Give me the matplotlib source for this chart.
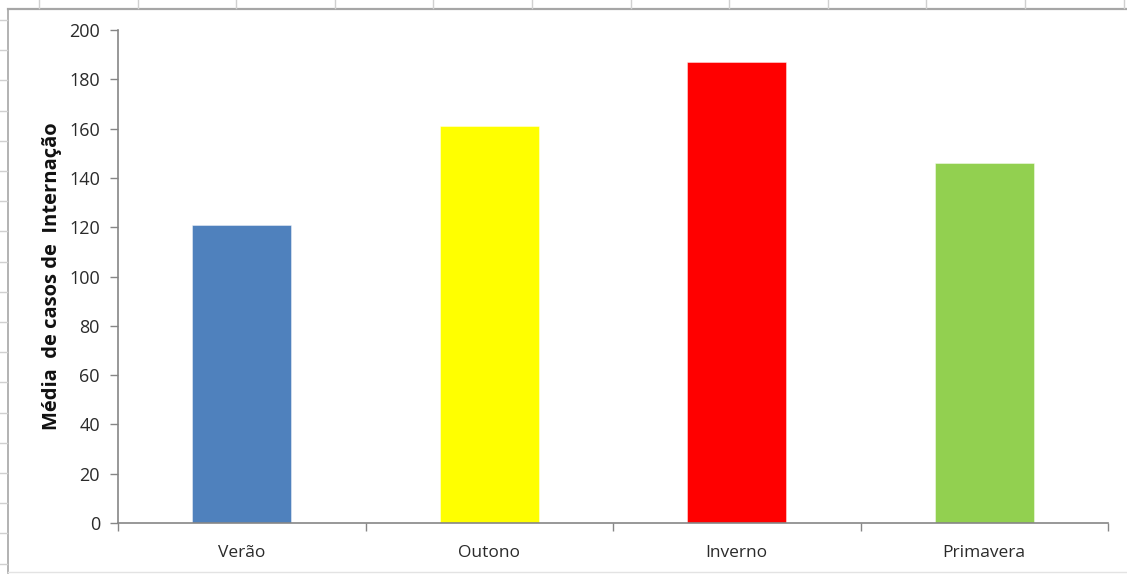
import matplotlib
matplotlib.use("Agg")
import matplotlib.pyplot as plt
from matplotlib.lines import Line2D

# Mean hospitalisation cases per season
seasons = ["Verão", "Outono", "Inverno", "Primavera"]
mean_cases = [121, 161, 187, 146]
bar_colors = ["#4F81BD", "#FFFF00", "#FF0000", "#92D050"]
y_ticks = [0, 20, 40, 60, 80, 100, 120, 140, 160, 180, 200]

W, H = 1127, 574
fig = plt.figure(figsize=(W / 100, H / 100), dpi=100)
fig.patch.set_facecolor("white")

plt.rcParams["font.family"] = ["Open Sans", "DejaVu Sans"]

# Sheet-style frame around the chart
def fx(px):
    return px / W

def fy(py):
    return 1 - py / H

frame_col = "#A6A6A6"
fig.add_artist(Line2D([fx(8), fx(8)], [fy(9), fy(573)], color=frame_col, lw=1.2))
fig.add_artist(Line2D([fx(8), 1], [fy(9), fy(9)], color=frame_col, lw=1.6))
fig.add_artist(Line2D([fx(8), 1], [fy(572), fy(572)], color="#E3E3E3", lw=1.0))
# column header markers along the top edge
for k in range(12):
    x = 39 + 98.6 * k
    fig.add_artist(Line2D([fx(x), fx(x)], [fy(0), fy(8)], color="#D0D0D0", lw=1.0))
# row markers along the left edge
for k in range(19):
    y = 20 + 30.2 * k
    fig.add_artist(Line2D([fx(0), fx(7)], [fy(y), fy(y)], color="#D0D0D0", lw=1.0))

ax = fig.add_axes([fx(118), fy(523), fx(1108) - fx(118), fy(30) - fy(523)])
ax.bar(range(len(seasons)), mean_cases, width=0.4, color=bar_colors,
       edgecolor=[(1, 1, 1, 0.5)] * 4, linewidth=0.6, zorder=2)

ax.set_xlim(-0.5, len(seasons) - 0.5)
ax.set_ylim(0, 200)
ax.set_yticks(y_ticks)
ax.set_yticklabels([str(v) for v in y_ticks], fontsize=13, color="#2a2a2a")

ax.set_xticks(range(len(seasons)))
ax.set_xticklabels(seasons, fontsize=12.5, color="#2a2a2a")
ax.tick_params(axis="x", length=0, pad=16)
ax.set_xticks([i - 0.5 for i in range(len(seasons) + 1)], minor=True)
ax.tick_params(axis="x", which="minor", length=6, direction="out", color="#868686", width=1)
ax.tick_params(axis="y", length=6, direction="out", color="#868686", width=1, pad=7)

for side in ["top", "right"]:
    ax.spines[side].set_visible(False)
for side in ["left", "bottom"]:
    ax.spines[side].set_color("#868686")
    ax.spines[side].set_linewidth(1.2)

ax.set_ylabel("Média  de casos de  Internação", fontsize=14.5, fontweight="bold",
              color="#111111", labelpad=5)

fig.savefig("out.png", dpi=100, facecolor="white")
